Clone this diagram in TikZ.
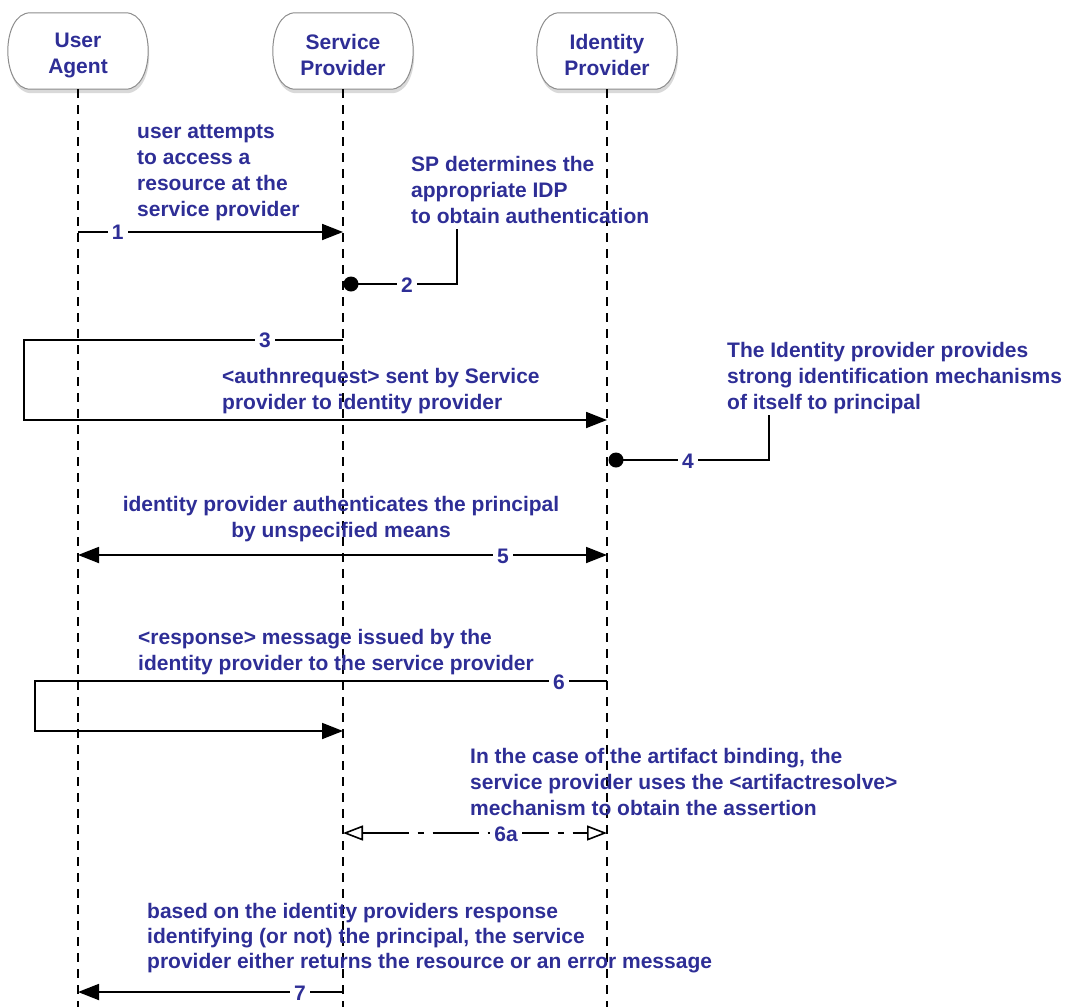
\documentclass[tikz,border=0pt]{standalone}
\usepackage{fontspec}
\setmainfont{Liberation Sans}
\usetikzlibrary{arrows.meta,shadows,backgrounds}
\definecolor{txt}{RGB}{46,46,150}
\newcommand\actorshape[1]{%
  \path[draw=black!45, line width=1pt, fill=white,
    drop shadow={opacity=0.3, shadow xshift=1pt, shadow yshift=-4pt}]
    ([xshift=22pt]#1.north west) -- ([xshift=-22pt]#1.north east)
    .. controls ([xshift=8pt]#1.north east) and ([xshift=8pt]#1.south east) ..
    ([xshift=-22pt]#1.south east) -- ([xshift=22pt]#1.south west)
    .. controls ([xshift=-8pt]#1.south west) and ([xshift=-8pt]#1.north west) ..
    cycle;}
\begin{document}
\begin{tikzpicture}[x=1pt,y=-1pt,
  actor/.style={minimum width=139pt, minimum height=76pt, inner sep=0pt},
  actortext/.style={align=center, inner sep=0pt, font=\bfseries\fontsize{21}{26}\selectfont, text=txt},
  life/.style={line width=1.4pt, dash pattern=on 9pt off 7pt},
  msg/.style={line width=1.8pt, -{Triangle[length=21pt,width=16pt]}},
  link/.style={line width=1.8pt},
  note/.style={text=txt, font=\bfseries\fontsize{21}{26}\selectfont, align=left, inner sep=0pt, anchor=north west},
  num/.style={text=txt, font=\bfseries\fontsize{21}{26}\selectfont, fill=white, inner sep=4pt},
  dot/.style={circle, fill=black, minimum size=15pt, inner sep=0pt},
  openhead/.style={line width=1.6pt, dash pattern=on 46pt off 9pt on 6pt off 9pt,
    {Triangle[open,length=20pt,width=15pt,line width=1.6pt]}-{Triangle[open,length=20pt,width=15pt,line width=1.6pt]}},
]
\useasboundingbox (0,0) rectangle (1074,1007);

% actors
\node[actor] (ua)  at (78,51)  {};
\node[actor] (sp)  at (343,51) {};
\node[actor] (idp) at (607,51) {};
\begin{scope}[on background layer]
  \actorshape{ua}
  \actorshape{sp}
  \actorshape{idp}
\end{scope}
\node[actortext] (ual)  at (78,55)  {User\\Agent};
\node[actortext] (spl)  at (343,55) {Service\\Provider};
\node[actortext] (idpl) at (607,55) {Identity\\Provider};

\coordinate (uaend)  at (78,1007);
\coordinate (spend)  at (343,1007);
\coordinate (idpend) at (607,1007);
\draw[life] (ua.south) -- (uaend);
\draw[life] (sp.south) -- (spend);
\draw[life] (idp.south) -- (idpend);

% message 1
\node[note] (t1) at (137,122) {\rule{0pt}{16pt}user attempts\\to access a\\resource at the\\service provider};
\coordinate (m1a) at (78,232);
\coordinate (m1b) at (343,232);
\draw[msg] (m1a) -- (m1b) node[num, pos=0.15] (n1) {1};

% message 2
\node[note] (t2) at (411,155) {\rule{0pt}{16pt}SP determines the\\appropriate IDP\\to obtain authentication};
\node[dot] (d2) at (351,284) {};
\coordinate (m2b) at (457,229);
\draw[link] (d2.center) -| (m2b);
\node[num] (n2) at (407,285) {2};

% message 3
\coordinate (m3a) at (343,340);
\coordinate (m3c1) at (24,340);
\coordinate (m3c2) at (24,420);
\coordinate (m3b) at (607,420);
\draw[msg] (m3a) -- (m3c1) -- (m3c2) -- (m3b);
\node[num] (n3) at (265,340) {3};
\node[note] (t3) at (222,367) {\rule{0pt}{16pt}<authnrequest> sent by Service\\provider to identity provider};

% message 4
\node[note] (t4) at (727,341) {\rule{0pt}{16pt}The Identity provider provides\\strong identification mechanisms\\of itself to principal};
\node[dot] (d4) at (616,460) {};
\coordinate (m4b) at (769,415);
\draw[link] (d4.center) -| (m4b);
\node[num] (n4) at (688,461) {4};

% message 5
\node[note, anchor=north, align=center] (t5) at (341,495) {\rule{0pt}{16pt}identity provider authenticates the principal\\by unspecified means};
\coordinate (m5a) at (78,555);
\coordinate (m5b) at (607,555);
\draw[msg, {Triangle[length=21pt,width=16pt]}-{Triangle[length=21pt,width=16pt]}] (m5a) -- (m5b);
\node[num] (n5) at (503,556) {5};

% message 6
\node[note] (t6) at (138,628) {\rule{0pt}{16pt}<response> message issued by the\\identity provider to the service provider};
\coordinate (m6a) at (607,681);
\coordinate (m6c1) at (35,681);
\coordinate (m6c2) at (35,731);
\coordinate (m6b) at (343,731);
\draw[msg] (m6a) -- (m6c1) -- (m6c2) -- (m6b);
\node[num] (n6) at (559,682) {6};

% message 6a
\node[note] (t6a) at (470,747) {\rule{0pt}{16pt}In the case of the artifact binding, the\\service provider uses the <artifactresolve>\\mechanism to obtain the assertion};
\coordinate (m6aa) at (343,833);
\coordinate (m6ab) at (607,833);
\draw[openhead] (m6aa) -- (m6ab);
\node[num] (n6a) at (506,834) {6a};

% message 7
\node[note] (t7) at (147,902) {\rule{0pt}{16pt}based on the identity providers response\\[-1pt]identifying (or not) the principal, the service\\[-1pt]provider either returns the resource or an error message};
\coordinate (m7a) at (343,992);
\coordinate (m7b) at (78,992);
\draw[msg] (m7a) -- (m7b);
\node[num] (n7) at (300,993) {7};
\end{tikzpicture}
\end{document}
